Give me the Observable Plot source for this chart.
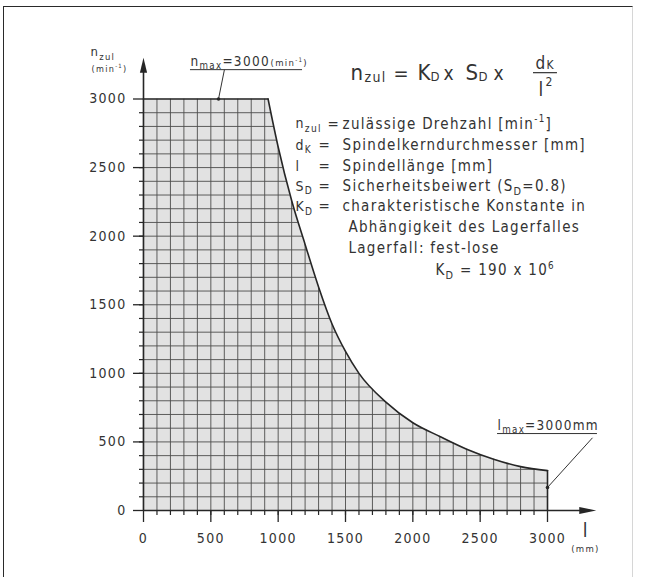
<!DOCTYPE html>
<html>
<head>
<meta charset="utf-8">
<script src="https://cdn.jsdelivr.net/npm/d3@7"></script>
<script src="https://cdn.jsdelivr.net/npm/@observablehq/plot@0.6"></script>
<style>
  html, body { margin: 0; padding: 0; background: #fff; }
  #wrap { position: relative; width: 667px; height: 577px; overflow: hidden; }
  #frame { position: absolute; left: 3px; top: 6px; width: 630px; height: 580px;
           border-left: 1.5px solid #2a2a2a; border-top: 1.5px solid #2a2a2a; border-right: 1px solid #d6d6d6;
           box-sizing: border-box; pointer-events: none; }
</style>
</head>
<body>
<div id="wrap"><div id="frame"></div></div>
<script>
// ---- data ----
const lengthFlat = [0, 925];
const speedFlat  = [3000, 3000];
const lengthCurve = [925, 1000, 1100, 1200, 1300, 1400, 1500, 1600, 1800, 2000, 2200, 2400, 2600, 2800, 3000];
const speedCurve  = [3000, 2650, 2260, 1940, 1630, 1360, 1160, 1000, 790, 640, 540, 447, 374, 320, 291];

const xTicks = [0, 500, 1000, 1500, 2000, 2500, 3000];
const xTickLabels = ["0", "500", "1000", "1500", "2000", "2500", "3000"];
const yTicks = [0, 500, 1000, 1500, 2000, 2500, 3000];
const yTickLabels = ["0", "500", "1000", "1500", "2000", "2500", "3000"];
const gridLength = d3.range(100, 3000, 100);
const gridSpeed  = d3.range(100, 3000, 100);

const legendSymbols = ["n_{zul}", "d_{K}", "l", "S_{D}", "K_{D}"];
const legendTexts = [
  "zulässige Drehzahl [min^{-1}]",
  "Spindelkerndurchmesser [mm]",
  "Spindellänge [mm]",
  "Sicherheitsbeiwert (S_{D}=0.8)",
  "charakteristische Konstante in",
  "Abhängigkeit des Lagerfalles",
  "Lagerfall: fest-lose"
];
const constantText = "K_{D} = 190 x 10^{6}";
const nMaxLabel = "n_{max}=3000";
const lMaxLabel = "l_{max}=3000mm";
const unitRpm = "(min^{-1})";

// ---- tables ----
const flat = lengthFlat.map((l, i) => ({l, n: speedFlat[i]}));
const curve = lengthCurve.map((l, i) => ({l, n: speedCurve[i]}));
const last = curve[curve.length - 1];

const ink = "#262626";
const txt = "#333";
const gridInk = "#4d4d4c";

// annotation layout (data coordinates)
const legendRowsN = [2820, 2660, 2507, 2361, 2215, 2062, 1909];
const legendRows = legendTexts.map((t, i) => ({
  sym: legendSymbols[i] ?? null,
  t,
  n: legendRowsN[i],
  eqL: i === 0 ? 1366 : 1300,
  tL: i < 5 ? 1478 : 1522
}));

const formula = [
  {t: "n", dx: 0, dy: 0, fs: 22},
  {t: "zul", dx: 14, dy: 2, fs: 14},
  {t: "=", dx: 43, dy: 0, fs: 20},
  {t: "K", dx: 67, dy: 0, fs: 22},
  {t: "D", dx: 80, dy: 1, fs: 13},
  {t: "x", dx: 93, dy: 0, fs: 19},
  {t: "S", dx: 115, dy: 0, fs: 22},
  {t: "D", dx: 128, dy: 1, fs: 13},
  {t: "x", dx: 143, dy: 0, fs: 19},
  {t: "d", dx: 185, dy: -11, fs: 17},
  {t: "K", dx: 196, dy: -11, fs: 12},
  {t: "l", dx: 188, dy: 16, fs: 19},
  {t: "2", dx: 195, dy: 6, fs: 12}
];
const formulaAnchor = {l: 1537, n: 3141};

const textMark = (t, l, n, fs, extra = {}) =>
  Plot.text([{t, l, n}], {x: "l", y: "n", text: "t", fontSize: fs, textAnchor: "start",
    lineAnchor: "bottom", fill: txt, ...extra});

const upArrow = {draw(ctx) { ctx.moveTo(0, 0); ctx.lineTo(3.6, 15); ctx.lineTo(-3.6, 15); ctx.closePath(); }};
const rightArrow = {draw(ctx) { ctx.moveTo(0, 0); ctx.lineTo(-17, -3.6); ctx.lineTo(-17, 3.6); ctx.closePath(); }};

const chart = Plot.plot({
  width: 667,
  height: 577,
  marginLeft: 143,
  marginRight: 120,
  marginTop: 98.5,
  marginBottom: 67,
  style: {background: "transparent", color: txt, letterSpacing: "1.3px",
    fontFamily: '"DejaVu Sans Condensed", "Liberation Sans Narrow", "DejaVu Sans", sans-serif', overflow: "visible"},
  x: {domain: [0, 3000], label: null},
  y: {domain: [0, 3000], label: null},
  marks: [
    Plot.areaY(flat, {x: "l", y: "n", fill: "#e2e2e2", stroke: "#e2e2e2", strokeWidth: 0.6, ariaDescription: "under-curve"}),
    Plot.areaY(curve, {x: "l", y: "n", curve: "monotone-x", fill: "#e2e2e2", stroke: "#e2e2e2", strokeWidth: 0.6, ariaDescription: "under-curve"}),
    Plot.ruleX(gridLength, {y1: 0, y2: 3000, stroke: gridInk, strokeWidth: 0.9, ariaDescription: "grid"}),
    Plot.ruleY(gridSpeed, {x1: 0, x2: 3000, stroke: gridInk, strokeWidth: 0.9, ariaDescription: "grid"}),
    Plot.lineY(flat, {x: "l", y: "n", stroke: ink, strokeWidth: 1.6}),
    Plot.lineY(curve, {x: "l", y: "n", curve: "monotone-x", stroke: ink, strokeWidth: 1.6}),
    Plot.ruleX([last], {x: "l", y1: 0, y2: "n", stroke: ink, strokeWidth: 1.6}),
    // axes
    Plot.axisY({ticks: gridSpeed, tickSize: 4, fill: "none", stroke: ink, strokeWidth: 1.2, label: null}),
    Plot.axisX({ticks: gridLength, tickSize: 5, fill: "none", stroke: ink, strokeWidth: 1.2, label: null}),
    Plot.axisY({ticks: yTicks, tickSize: 10, tickPadding: 7, fontSize: 14, stroke: ink, strokeWidth: 1.3, label: null,
      tickFormat: d => yTickLabels[yTicks.indexOf(d)]}),
    Plot.axisX({ticks: xTicks, tickSize: 12, tickPadding: 11, fontSize: 14, stroke: ink, strokeWidth: 1.3, label: null,
      tickFormat: d => xTickLabels[xTicks.indexOf(d)]}),
    Plot.ruleX([0], {y1: 0, y2: 3200, stroke: ink, strokeWidth: 1.6}),
    Plot.ruleY([0], {x1: 0, x2: 3250, stroke: ink, strokeWidth: 1.6}),
    Plot.dot([{l: 0, n: 3300}], {x: "l", y: "n", symbol: upArrow, fill: ink, stroke: "none"}),
    Plot.dot([{l: 3362, n: 0}], {x: "l", y: "n", symbol: rightArrow, fill: ink, stroke: "none"}),
    // axis titles
    textMark("n_{zul}", -394, 3310, 13),
    textMark(unitRpm, -386, 3196, 9),
    textMark("l", 3262, -195, 19),
    textMark("(mm)", 3282, -277, 9.5, {textAnchor: "middle", lineAnchor: "middle"}),
    // n max annotation
    textMark(nMaxLabel, 349, 3242, 13.5),
    textMark(unitRpm, 943, 3242, 9.5),
    Plot.ruleY([3214], {x1: 349, x2: 1181, stroke: txt, strokeWidth: 1}),
    Plot.link([{x1: 601, y1: 3214, x2: 557, y2: 3000}], {x1: "x1", y1: "y1", x2: "x2", y2: "y2", stroke: txt, strokeWidth: 1}),
    Plot.dot([{l: 557, n: 3000}], {x: "l", y: "n", r: 1.8, fill: ink, stroke: "none"}),
    // l max annotation
    textMark(lMaxLabel, 2629, 588, 13.5),
    Plot.ruleY([561], {x1: 2629, x2: 3371, stroke: txt, strokeWidth: 1}),
    Plot.link([{x1: 3334, y1: 530, x2: 3000, y2: 168}], {x1: "x1", y1: "y1", x2: "x2", y2: "y2", stroke: txt, strokeWidth: 1}),
    Plot.dot([{l: 3000, n: 168}], {x: "l", y: "n", r: 1.8, fill: ink, stroke: "none"}),
    // formula
    ...formula.map(p => Plot.text([p], {x: () => formulaAnchor.l, y: () => formulaAnchor.n, text: "t", fontSize: p.fs,
      textAnchor: "start", lineAnchor: "bottom", dx: p.dx, dy: p.dy, fill: txt})),
    Plot.ruleY([3192], {x1: 2896, x2: 3074, stroke: txt, strokeWidth: 1.2}),
    // legend
    ...legendRows.filter(r => r.sym).map(r => textMark(r.sym, 1129, r.n, 14, {lineAnchor: "middle"})),
    ...legendRows.filter(r => r.sym).map(r => textMark("=", r.eqL, r.n, 15, {lineAnchor: "middle"})),
    ...legendRows.map(r => textMark(r.t, r.tL, r.n, 15, {lineAnchor: "middle"})),
    textMark(constantText, 2168, 1749, 15, {lineAnchor: "middle"})
  ]
});

document.getElementById("wrap").insertBefore(chart, document.getElementById("frame"));

// clip grid to the area below the curve
const ns = "http://www.w3.org/2000/svg";
const defs = document.createElementNS(ns, "defs");
const cp = document.createElementNS(ns, "clipPath");
cp.setAttribute("id", "under-curve-clip");
let areaPaths = chart.querySelectorAll('g[aria-description="under-curve"] path');
if (!areaPaths.length) areaPaths = chart.querySelectorAll('g[aria-label="area"] path');
areaPaths.forEach(p => {
  const c = document.createElementNS(ns, "path");
  c.setAttribute("d", p.getAttribute("d"));
  cp.appendChild(c);
});
defs.appendChild(cp);
chart.insertBefore(defs, chart.firstChild);
let gridGroups = chart.querySelectorAll('g[aria-description="grid"]');
if (!gridGroups.length) gridGroups = chart.querySelectorAll(`g[aria-label="rule"][stroke="${gridInk}"]`);
gridGroups.forEach(g => g.setAttribute("clip-path", "url(#under-curve-clip)"));

// sub/superscripts inside text
chart.querySelectorAll("text").forEach(el => {
  const s = el.textContent;
  if (!/[_^]\{/.test(s)) return;
  const fs = parseFloat(getComputedStyle(el).fontSize) || 14;
  el.textContent = "";
  let shift = 0;
  s.split(/([_^]\{[^}]*\})/).forEach(part => {
    if (!part) return;
    const ts = document.createElementNS(ns, "tspan");
    let target = 0;
    if (part.startsWith("_{")) { target = 0.24 * fs; ts.setAttribute("font-size", (0.72 * fs).toFixed(1)); part = part.slice(2, -1); }
    else if (part.startsWith("^{")) { target = -0.42 * fs; ts.setAttribute("font-size", (0.65 * fs).toFixed(1)); part = part.slice(2, -1); }
    ts.setAttribute("dy", (target - shift).toFixed(2));
    shift = target;
    ts.textContent = part;
    el.appendChild(ts);
  });
});
</script>
</body>
</html>
